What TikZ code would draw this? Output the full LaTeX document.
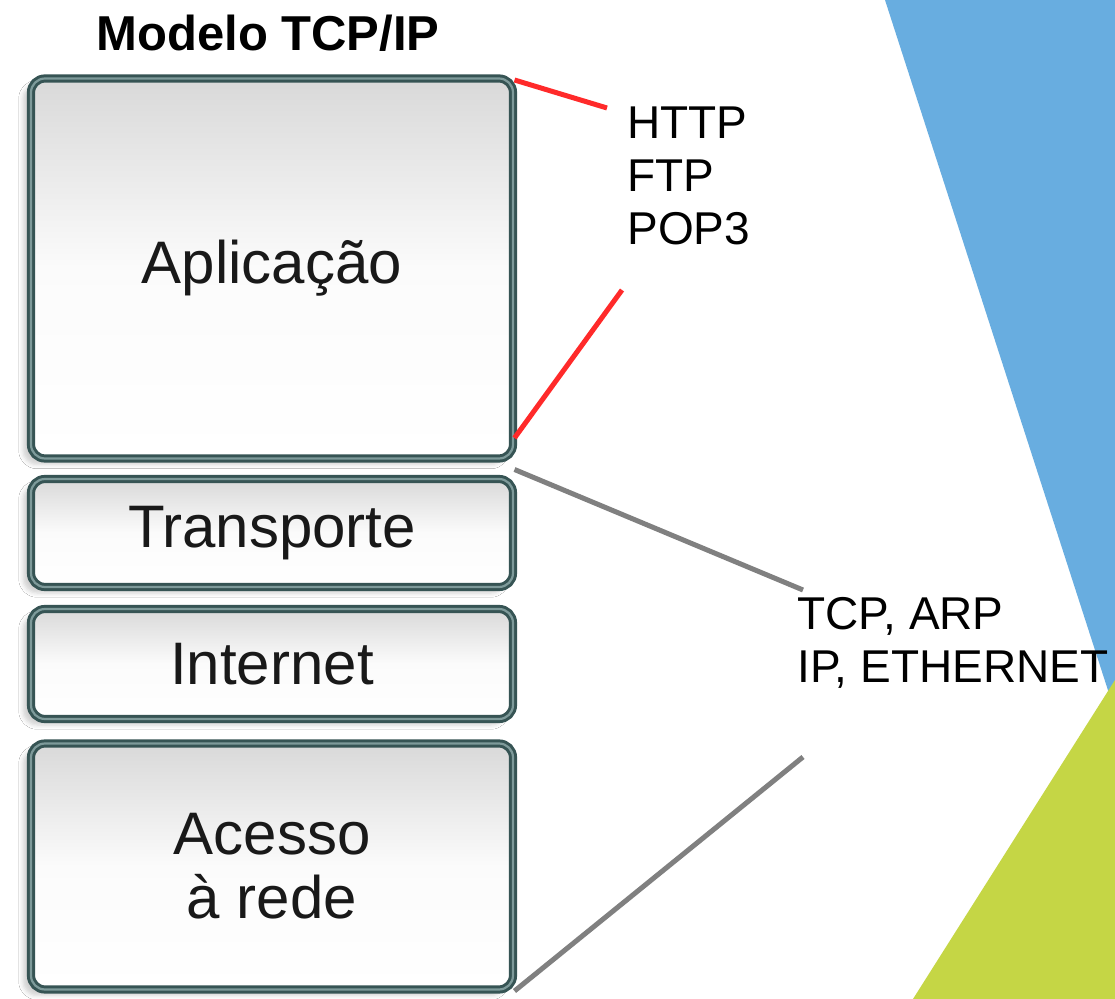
\documentclass[tikz,border=0pt]{standalone}
\usepackage{fontspec}
\setmainfont{Liberation Sans}
\usetikzlibrary{positioning,calc,shadows.blur}
\definecolor{camada}{HTML}{365454}
\definecolor{camadain}{HTML}{7E9A9A}
\definecolor{azul}{HTML}{68ADE0}
\definecolor{verde}{HTML}{C5D645}
\definecolor{vermelho}{HTML}{FF2A2A}
\definecolor{cinza}{HTML}{808080}

\begin{document}
\begin{tikzpicture}[x=0.5pt,y=-0.5pt,
  camadabox/.style={draw=camada, double=camadain, double distance=1.1pt, line width=1.5pt,
    rounded corners=7pt, top color=gray!30, bottom color=white, middle color=white!97!gray,
    minimum width=241pt, font=\fontsize{30}{33}\selectfont, text=black!90, align=center,
    blur shadow={shadow xshift=-4pt, shadow yshift=-3pt, shadow opacity=18}},
  protocolo/.style={font=\fontsize{23}{26.5}\selectfont, align=left, anchor=north west, inner sep=0pt},
  ligacao/.style={line width=2.5pt}]
\useasboundingbox (0,0) rectangle (1115,999);
\fill[white] (0,0) rectangle (1115,999);
% Decorative corner shapes
\fill[azul] (885,0)--(1115,0)--(1115,712)--cycle;
\fill[verde] (913,999)--(1115,999)--(1115,680)--cycle;
% Title
\node[font=\bfseries\fontsize{24.5}{28}\selectfont] (titulo) at (268,33) {Modelo TCP/IP};
% Layers
\node[camadabox, minimum height=190pt] (app) at (272,268.5) {Aplica\c{c}\~ao};
\node[camadabox, minimum height=54pt] (trans) at (272,533) {Transporte};
\node[camadabox, minimum height=55pt] (inet) at (272,664) {Internet};
\node[camadabox, minimum height=123pt] (acc) at (272,866.5) {Acesso\\[-1pt] \`a rede};
% Protocols
\node[protocolo] (protapp) at (627,106) {HTTP\\FTP\\POP3};
\node[protocolo] (protbase) at (797,597) {TCP, ARP\\IP, ETHERNET};
\coordinate (r1) at (607,108);
\coordinate (r2) at (622,290);
\coordinate (g1) at (803,590);
\coordinate (g2) at (803,757);
% Connectors
\draw[ligacao, vermelho] ([yshift=-1.5pt]app.north east) -- (r1);
\draw[ligacao, vermelho] ($(app.south east)+(0,-22)$) -- (r2);
\draw[ligacao, cinza] ($(trans.north east)+(0,-8)$) -- (g1);
\draw[ligacao, cinza] (acc.south east) -- (g2);
\end{tikzpicture}
\end{document}
